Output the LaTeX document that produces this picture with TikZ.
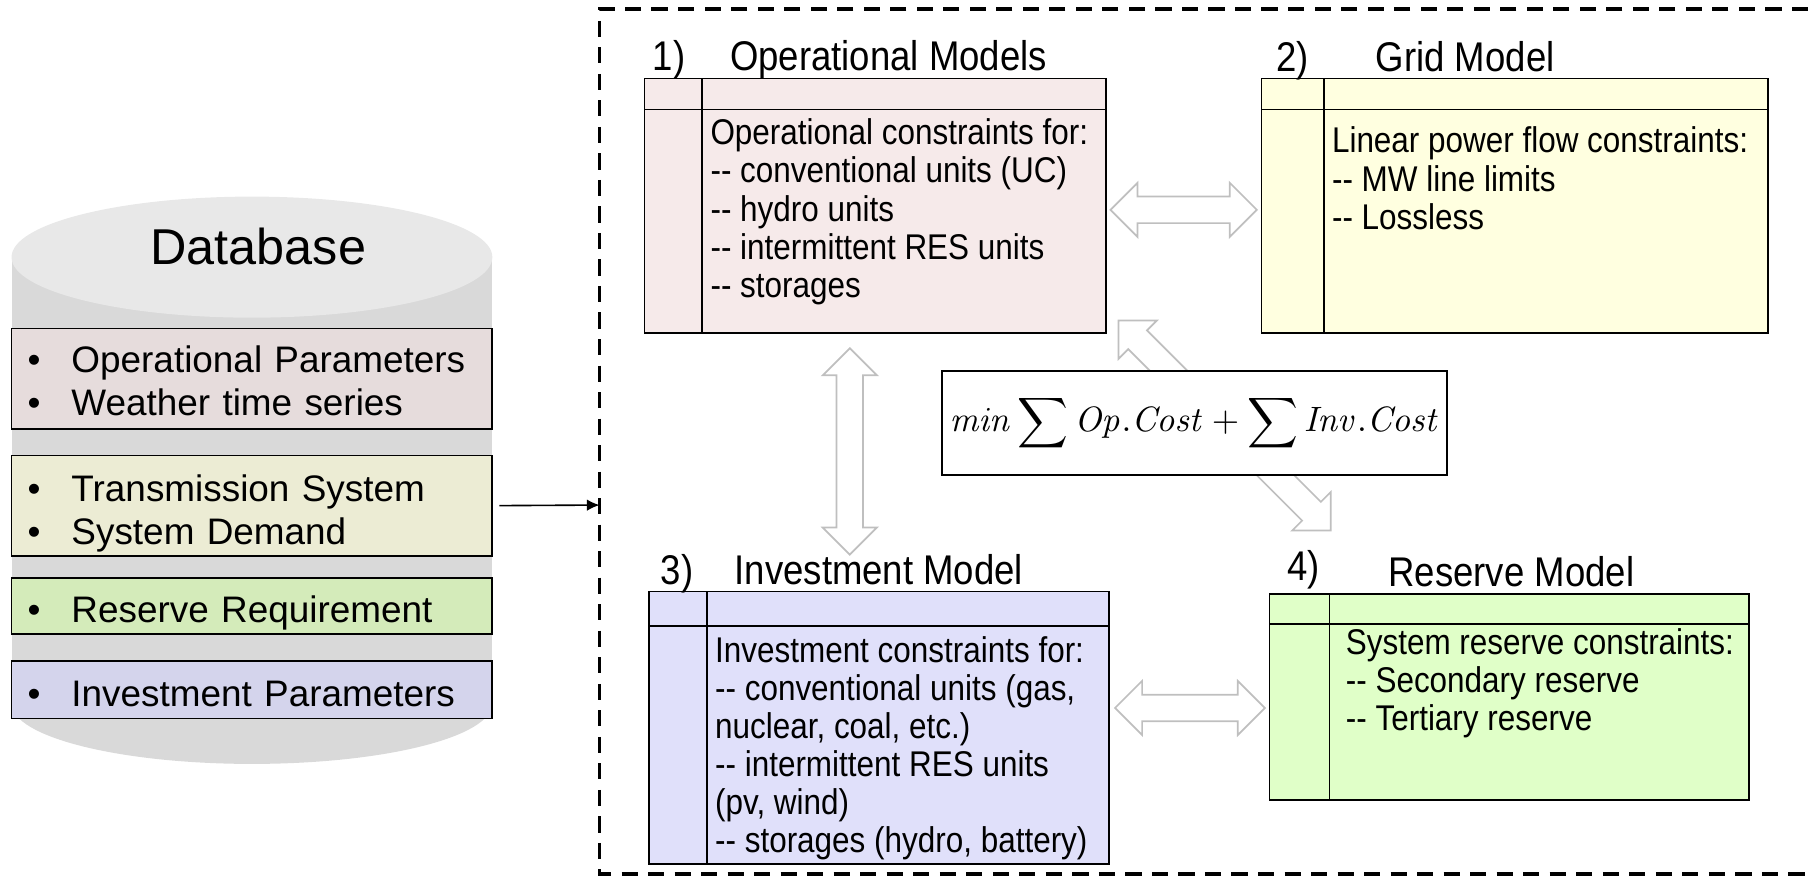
\documentclass[tikz,border=0pt]{standalone}
\usepackage[no-math]{fontspec}
\setmainfont{Liberation Sans}
\newfontfamily\narrowfont[FakeStretch = 0.88]{Liberation Sans}
\usepackage{graphicx}
\usetikzlibrary{calc, arrows.meta}

\definecolor{cyltop}{RGB}{232,232,232}
\definecolor{cylbody}{RGB}{217,217,217}
\definecolor{dbop}{RGB}{230,220,220}
\definecolor{dbgrid}{RGB}{236,236,212}
\definecolor{dbres}{RGB}{212,235,186}
\definecolor{dbinv}{RGB}{212,212,236}
\definecolor{opfill}{RGB}{246,234,234}
\definecolor{gridfill}{RGB}{255,255,224}
\definecolor{invfill}{RGB}{224,224,250}
\definecolor{resfill}{RGB}{224,255,200}

\tikzset{
    modelbox/.style = {draw, line width = 1.5pt, rectangle, inner sep = 0pt, outer sep = 0pt, anchor = north west},
    dbbox/.style = {modelbox, minimum width = 417pt, text width = 389pt, inner xsep = 14pt, align = left, font = \fontsize{32}{37}\selectfont},
    modeltitle/.style = {anchor = base west, inner sep = 0pt, font = \narrowfont\fontsize{36}{40}\selectfont},
    modeltext/.style = {anchor = north west, inner sep = 0pt, align = left, font = \narrowfont\fontsize{31}{33}\selectfont},
    blockarrow/.style = {draw = black!25, line width = 1.5pt, fill = white, line join = miter},
    frame/.style = {line width = 3pt, dash pattern = on 14pt off 9pt}
}

\newcommand{\dbitem}{\makebox[38pt][l]{\textbullet}}
\def\ahl{23.5pt}
\def\ahw{23.5pt}
\def\asw{11.5pt}
\newcommand{\dblarrow}[2]{%
    \filldraw[blockarrow] (#1)
        -- ($(#1)!\ahl!(#2)!\ahw!90:(#2)$)
        -- ($(#1)!\ahl!(#2)!\asw!90:(#2)$)
        -- ($(#2)!\ahl!(#1)!\asw!-90:(#1)$)
        -- ($(#2)!\ahl!(#1)!\ahw!-90:(#1)$)
        -- (#2)
        -- ($(#2)!\ahl!(#1)!\ahw!90:(#1)$)
        -- ($(#2)!\ahl!(#1)!\asw!90:(#1)$)
        -- ($(#1)!\ahl!(#2)!\asw!-90:(#2)$)
        -- ($(#1)!\ahl!(#2)!\ahw!-90:(#2)$)
        -- cycle;}
\newcommand{\sglarrow}[2]{%
    \filldraw[blockarrow] ($(#1)!\asw!90:(#2)$)
        -- ($(#2)!\ahl!(#1)!\asw!-90:(#1)$)
        -- ($(#2)!\ahl!(#1)!\ahw!-90:(#1)$)
        -- (#2)
        -- ($(#2)!\ahl!(#1)!\ahw!90:(#1)$)
        -- ($(#2)!\ahl!(#1)!\asw!90:(#1)$)
        -- ($(#1)!\asw!-90:(#2)$)
        -- cycle;}

\begin{document}
\begin{tikzpicture}[x = 1pt, y = -1pt]
    \useasboundingbox (0,0) rectangle (1568,761);
    \begin{scope}
        \fill[cylbody] (10,223) rectangle (427,610);
        \fill[cylbody] (218.5,610) ellipse [x radius = 208.5, y radius = 52.5];
        \fill[cyltop] (218.5,223) ellipse [x radius = 208.5, y radius = 52.5];
        \node[font = \fontsize{43.7}{50}\selectfont] (dbname) at (224,214) {Database};
        \node[dbbox, fill = dbop, minimum height = 87pt] (opdata) at (10,285) {\rule{0pt}{27pt}\dbitem Operational Parameters\\\dbitem Weather time series};
        \node[dbbox, fill = dbgrid, minimum height = 87pt] (trans) at (10,395) {\rule{0pt}{37pt}\dbitem Transmission System\\\dbitem System Demand};
        \node[dbbox, fill = dbres, minimum height = 49pt] (resdata) at (10,501) {\rule{0pt}{35pt}\dbitem Reserve Requirement};
        \node[dbbox, fill = dbinv, minimum height = 50pt] (invdata) at (10,573) {\rule{0pt}{29pt}\dbitem Investment Parameters};
    \end{scope}
    \coordinate (framein) at (520,438);
    \draw[frame] (1568,8) -- (520,8) -- (520,758) -- (1568,758);
    \draw[line width = 1.4pt, -{Latex[length = 11pt, width = 10pt]}] ([xshift = 6pt]trans.east) -- (framein);

    \node[modelbox, fill = opfill, minimum width = 400pt, minimum height = 221pt] (op) at (559,68) {};
    \node[modelbox, fill = gridfill, minimum width = 439pt, minimum height = 221pt] (grid) at (1094,68) {};
    \node[modelbox, fill = invfill, minimum width = 399pt, minimum height = 236pt] (inv) at (563,513) {};
    \node[modelbox, fill = resfill, minimum width = 416pt, minimum height = 179pt] (res) at (1101,515) {};
    \foreach \n/\h/\c in {op/27/50, grid/27/54, inv/30/50, res/26/52} {
        \draw[line width = 1.5pt] ([yshift = -\h pt]\n.north west) -- ([yshift = -\h pt]\n.north east);
        \draw[line width = 1.5pt] ([xshift = \c pt]\n.north west) -- ([xshift = \c pt]\n.south west);
    }

    \node[modeltitle] (opnum) at (566,61) {1)};
    \node[modeltitle] (optitle) at (633,61) {Operational Models};
    \node[modeltitle] (gridnum) at (1107,62) {2)};
    \node[modeltitle] (gridtitle) at (1193,62) {Grid Model};
    \node[modeltitle] (invnum) at (573,507) {3)};
    \node[modeltitle] (invtitle) at (637,507) {Investment Model};
    \node[modeltitle] (resnum) at (1116,503) {4)};
    \node[modeltitle] (restitle) at (1204,509) {Reserve Model};

    \node[modeltext] (optext) at (616,103) {Operational constraints for:\\-{}- conventional units (UC)\\-{}- hydro units\\-{}- intermittent RES units\\-{}- storages};
    \node[modeltext] (gridtext) at (1155,110) {Linear power flow constraints:\\-{}- MW line limits\\-{}- Lossless};
    \node[modeltext] (invtext) at (620,552) {Investment constraints for:\\-{}- conventional units (gas,\\nuclear, coal, etc.)\\-{}- intermittent RES units\\(pv, wind)\\-{}- storages (hydro, battery)};
    \node[modeltext] (restext) at (1167,545) {System reserve constraints:\\-{}- Secondary reserve\\-{}- Tertiary reserve};

    \coordinate (opR) at (963,182);
    \coordinate (gridL) at (1090,182);
    \coordinate (opB) at (737,302);
    \coordinate (invT) at (737,481);
    \coordinate (invR) at (967,614);
    \coordinate (resL) at (1097,614);
    \coordinate (costT) at (1040,348);
    \coordinate (opC) at (970,278);
    \coordinate (costB) at (1087,393);
    \coordinate (resC) at (1154,460);
    \dblarrow{opR}{gridL}
    \dblarrow{opB}{invT}
    \dblarrow{invR}{resL}
    \sglarrow{costT}{opC}
    \sglarrow{costB}{resC}

    \node[draw, line width = 1.5pt, fill = white, minimum width = 438pt, minimum height = 90pt, inner sep = 0pt] (cost) at (1036,367)
        {\resizebox{425pt}{!}{$\displaystyle \mathit{min}\sum \mathit{Op.Cost}+\sum \mathit{Inv.Cost}$}};
\end{tikzpicture}
\end{document}
